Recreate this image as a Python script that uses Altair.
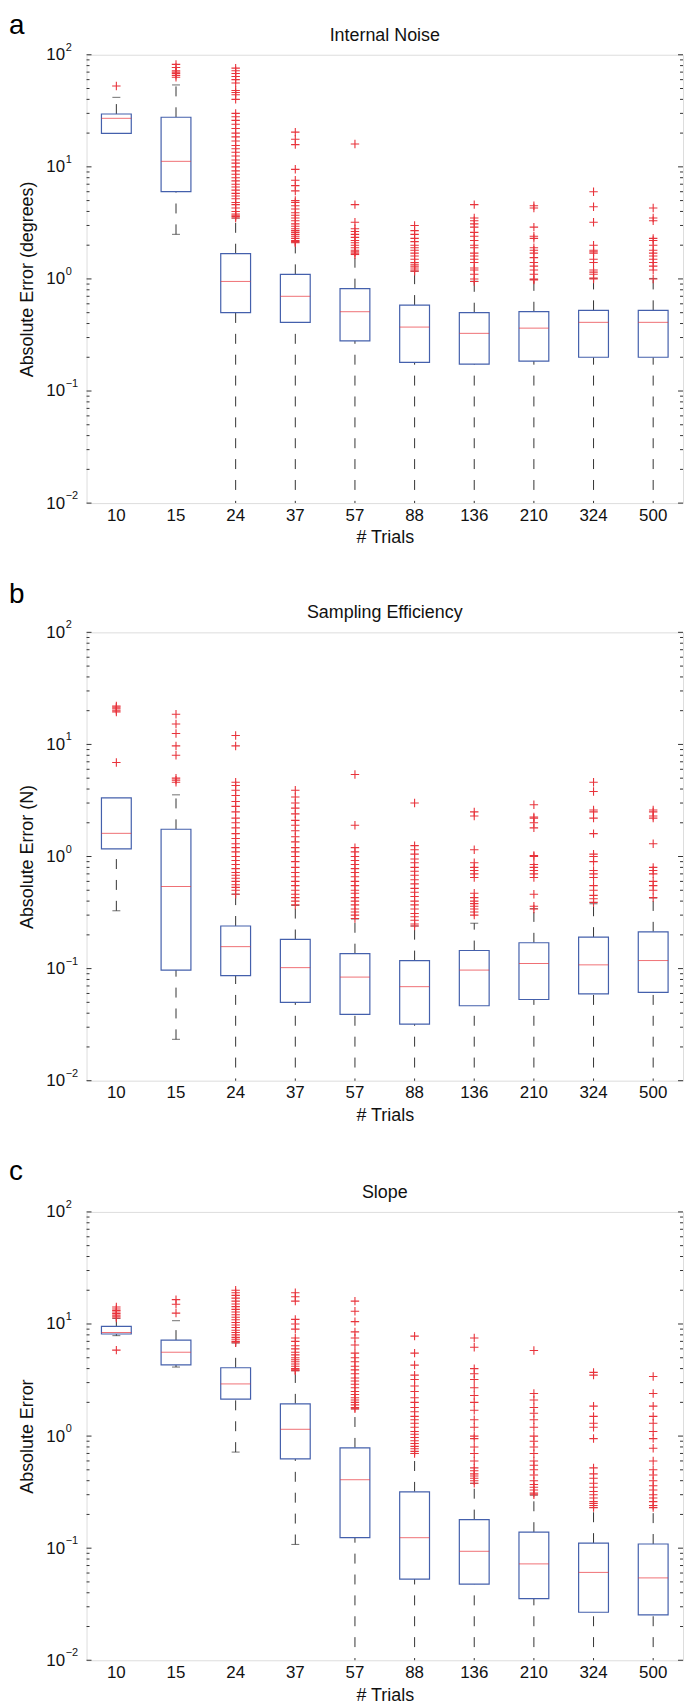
import altair as alt
import pandas as pd

trials = ["10", "15", "24", "37", "57", "88", "136", "210", "324", "500"]

# ---------- Panel a: Internal Noise ----------
a_q1 = [19.9, 6.0, 0.50, 0.41, 0.28, 0.18, 0.174, 0.185, 0.20, 0.20]
a_med = [27.1, 11.2, 0.95, 0.70, 0.51, 0.372, 0.327, 0.364, 0.41, 0.41]
a_q3 = [29.6, 27.7, 1.68, 1.10, 0.82, 0.585, 0.50, 0.51, 0.525, 0.525]
a_lo = [19.9, 2.5, 0.001, 0.001, 0.001, 0.001, 0.001, 0.001, 0.001, 0.001]
a_hi = [41.7, 53.8, 3.49, 2.13, 1.65, 1.17, 0.953, 0.99, 1.01, 1.01]
a_out = {
    "10": [52.6],
    "15": [63, 65.5, 68, 70, 72, 77, 82],
    "24": [3.5, 3.6, 3.7, 3.8, 4.0, 4.3, 4.6, 4.8, 5.2, 5.5, 5.8, 6.2, 6.6, 7.0, 7.5,
           8.0, 8.6, 9.2, 10.0, 10.8, 11.5, 12.5, 13.5, 14.5, 15.5, 17, 18.5, 20, 22,
           24, 26, 28, 30, 40, 44, 46, 48, 56, 60, 64, 68, 72, 76],
    "37": [2.1, 2.15, 2.2, 2.3, 2.4, 2.5, 2.6, 2.7, 2.8, 2.95, 3.1, 3.3, 3.5, 3.7, 3.9,
           4.2, 4.5, 4.8, 5.0, 6.1, 6.8, 7.6, 9.5, 15.8, 17.6, 20.4],
    "57": [1.65, 1.7, 1.75, 1.8, 1.9, 2.0, 2.1, 2.2, 2.35, 2.5, 2.65, 2.8, 3.2, 4.6, 16],
    "88": [1.17, 1.2, 1.25, 1.3, 1.35, 1.4, 1.5, 1.6, 1.7, 1.8, 1.9, 2.0, 2.15, 2.3,
           2.5, 2.7, 3.0],
    "136": [0.95, 1.0, 1.1, 1.2, 1.25, 1.4, 1.5, 1.6, 1.7, 1.9, 2.0, 2.2, 2.4, 2.6,
            2.9, 3.1, 3.3, 3.5, 4.6],
    "210": [0.98, 1.0, 1.1, 1.2, 1.3, 1.4, 1.55, 1.7, 1.8, 1.9, 2.3, 2.4, 2.9, 4.3, 4.5],
    "324": [1.0, 1.02, 1.1, 1.15, 1.2, 1.4, 1.5, 1.7, 1.75, 1.8, 2.0, 3.2, 4.4, 6.0],
    "500": [1.0, 1.2, 1.3, 1.4, 1.5, 1.6, 1.7, 1.8, 2.0, 2.2, 2.3, 3.3, 3.5, 4.3],
}

# ---------- Panel b: Sampling Efficiency ----------
b_q1 = [1.17, 0.097, 0.0865, 0.050, 0.039, 0.032, 0.0466, 0.053, 0.0596, 0.0613]
b_med = [1.61, 0.54, 0.157, 0.102, 0.084, 0.069, 0.097, 0.111, 0.108, 0.118]
b_q3 = [3.33, 1.75, 0.24, 0.182, 0.136, 0.118, 0.145, 0.170, 0.191, 0.213]
b_lo = [0.328, 0.0234, 0.001, 0.001, 0.001, 0.001, 0.001, 0.001, 0.001, 0.001]
b_hi = [3.33, 3.55, 0.462, 0.366, 0.277, 0.24, 0.254, 0.343, 0.379, 0.427]
b_out = {
    "10": [6.9, 19.5, 20.2, 20.8, 21.5, 22],
    "15": [4.6, 4.8, 5.0, 8.0, 9.7, 12.5, 15.2, 18.6],
    "24": [0.46, 0.5, 0.53, 0.56, 0.6, 0.64, 0.68, 0.72, 0.78, 0.85, 0.92, 1.0, 1.1,
           1.2, 1.3, 1.45, 1.6, 1.8, 2.0, 2.2, 2.5, 2.8, 3.1, 3.5, 3.9, 4.3, 4.6, 9.7, 12.0],
    "37": [0.37, 0.4, 0.43, 0.46, 0.5, 0.55, 0.6, 0.66, 0.72, 0.8, 0.9, 1.0, 1.1, 1.2,
           1.35, 1.5, 1.7, 1.9, 2.1, 2.4, 2.7, 3.0, 3.4, 3.9],
    "57": [0.28, 0.3, 0.32, 0.34, 0.37, 0.4, 0.43, 0.47, 0.5, 0.55, 0.6, 0.66, 0.72,
           0.78, 0.85, 0.92, 1.0, 1.1, 1.2, 1.9, 5.4],
    "88": [0.24, 0.25, 0.27, 0.29, 0.31, 0.34, 0.37, 0.4, 0.44, 0.48, 0.52, 0.57, 0.62,
           0.68, 0.74, 0.8, 0.88, 0.95, 1.05, 1.15, 1.25, 3.0],
    "136": [0.3, 0.32, 0.34, 0.36, 0.38, 0.4, 0.43, 0.47, 0.65, 0.7, 0.75, 0.8, 0.88,
            1.15, 2.3, 2.5],
    "210": [0.34, 0.36, 0.46, 0.65, 0.7, 0.75, 0.8, 0.85, 1.0, 1.02, 1.8, 2.0, 2.2,
            2.25, 2.9],
    "324": [0.39, 0.42, 0.45, 0.5, 0.55, 0.65, 0.7, 0.75, 0.9, 1.0, 1.05, 1.6, 2.2,
            2.5, 2.6, 3.8, 4.6],
    "500": [0.43, 0.5, 0.55, 0.6, 0.7, 0.75, 0.8, 1.3, 2.2, 2.3, 2.5, 2.6],
}

# ---------- Panel c: Slope ----------
c_q1 = [8.14, 4.32, 2.14, 0.625, 0.124, 0.053, 0.0477, 0.0355, 0.0268, 0.0254]
c_med = [8.4, 5.6, 2.92, 1.15, 0.408, 0.124, 0.0938, 0.0724, 0.0608, 0.0543]
c_q3 = [9.54, 7.19, 4.07, 1.94, 0.785, 0.318, 0.18, 0.139, 0.111, 0.109]
c_lo = [7.87, 4.13, 0.72, 0.108, 0.001, 0.001, 0.001, 0.001, 0.001, 0.001]
c_hi = [11.2, 10.7, 6.77, 3.83, 1.75, 0.70, 0.379, 0.297, 0.231, 0.231]
c_out = {
    "10": [5.85, 11.3, 11.6, 12, 12.4, 12.8, 13.2, 13.6, 14.2],
    "15": [12.5, 15, 16.5],
    "24": [6.8, 7.0, 7.3, 7.6, 8.0, 8.4, 8.8, 9.3, 9.8, 10.3, 10.9, 11.5, 12.1, 12.8,
           13.5, 14.3, 15.1, 16, 17, 18, 19, 20],
    "37": [3.83, 3.9, 4.0, 4.2, 4.4, 4.6, 4.8, 5.0, 5.3, 5.6, 6.0, 6.4, 7.0, 7.5, 9.0,
           10, 11, 16, 17.5, 19],
    "57": [1.75, 1.8, 1.9, 2.0, 2.1, 2.2, 2.35, 2.5, 2.7, 2.9, 3.1, 3.3, 3.6, 3.9, 4.2,
           4.6, 5.0, 5.5, 6.5, 7.5, 8.5, 10.5, 13, 16],
    "88": [0.7, 0.73, 0.77, 0.81, 0.86, 0.91, 0.97, 1.04, 1.1, 1.2, 1.3, 1.4, 1.5, 1.65,
           1.8, 2.0, 2.2, 2.5, 2.8, 3.2, 3.5, 4.3, 5.5, 7.8],
    "136": [0.38, 0.4, 0.42, 0.44, 0.46, 0.49, 0.52, 0.6, 0.7, 0.8, 0.95, 1.0, 1.2, 1.4,
            1.7, 2.0, 2.3, 2.7, 3.2, 3.6, 4.0, 6.2, 7.5],
    "210": [0.3, 0.31, 0.33, 0.35, 0.37, 0.4, 0.45, 0.5, 0.55, 0.6, 0.7, 0.8, 0.9, 1.0,
            1.2, 1.4, 1.6, 1.8, 2.1, 2.4, 5.8],
    "324": [0.23, 0.24, 0.25, 0.26, 0.28, 0.3, 0.32, 0.35, 0.38, 0.42, 0.46, 0.52, 0.95,
            1.2, 1.3, 1.5, 1.85, 3.5, 3.7],
    "500": [0.23, 0.24, 0.26, 0.28, 0.3, 0.33, 0.36, 0.4, 0.45, 0.5, 0.6, 0.78, 0.95,
            1.1, 1.3, 1.5, 1.85, 2.4, 3.4],
}

decades = [0.01, 0.1, 1, 10, 100]
exponents = ["\u22122", "\u22121", "0", "1", "2"]
minor_ticks = [0.02, 0.03, 0.04, 0.05, 0.06, 0.07, 0.08, 0.09,
               0.2, 0.3, 0.4, 0.5, 0.6, 0.7, 0.8, 0.9,
               2, 3, 4, 5, 6, 7, 8, 9,
               20, 30, 40, 50, 60, 70, 80, 90]

FONT = "Liberation Sans"
BOX = "#4460ac"
RED = "#e8333b"
BLACK = "#333333"
W, H = 600, 451


def panel(letter, letter_y, title, ytitle, q1, med, q3, lo, hi, out):
    stats = pd.DataFrame({"n": trials, "q1": q1, "med": med, "q3": q3,
                          "lo": lo, "hi": hi})
    rows = [(k, v) for k in trials for v in out[k]]
    outl = pd.DataFrame(rows, columns=["n", "v"])

    yscale = alt.Scale(type="log", domain=[0.01, 100], nice=False)
    xenc = alt.X("n:N", sort=trials,
                 scale=alt.Scale(domain=trials, paddingInner=0, paddingOuter=0),
                 axis=alt.Axis(title="# Trials", labelAngle=0, ticks=False,
                               tickSize=0, domain=False, labelFontSize=17,
                               labelPadding=4, titleFontSize=18,
                               titleFontWeight="normal", titlePadding=6,
                               labelFont=FONT, titleFont=FONT,
                               labelColor="#111", titleColor="#111"))
    yaxis = alt.Axis(title=ytitle, values=decades, labelExpr="'10'",
                     ticks=False, domain=False, grid=False, labelFontSize=17,
                     labelPadding=22, labelFont=FONT, titleFont=FONT,
                     titleFontSize=18, titleFontWeight="normal", titlePadding=9,
                     labelColor="#111", titleColor="#111")

    base = alt.Chart(stats)
    upper = base.mark_rule(color=BLACK, strokeDash=[10, 11], clip=True).encode(
        x=xenc, y=alt.Y("q3:Q", scale=yscale, axis=yaxis), y2="hi:Q")
    lower = base.mark_rule(color=BLACK, strokeDash=[10, 11], clip=True).encode(
        x=xenc, y=alt.Y("lo:Q", scale=yscale), y2="q1:Q")
    cap_hi = base.transform_filter("datum.hi > datum.q3").mark_tick(
        color=BLACK, size=8, thickness=1).encode(x=xenc, y=alt.Y("hi:Q", scale=yscale))
    cap_lo = base.transform_filter("datum.lo < datum.q1 && datum.lo >= 0.01").mark_tick(
        color=BLACK, size=8, thickness=1).encode(x=xenc, y=alt.Y("lo:Q", scale=yscale))
    box = base.mark_bar(size=30, fill="white", stroke=BOX, strokeWidth=1.2).encode(
        x=xenc, y=alt.Y("q1:Q", scale=yscale), y2="q3:Q")
    median = base.mark_tick(color=RED, size=30, thickness=1).encode(
        x=xenc, y=alt.Y("med:Q", scale=yscale))
    pts = alt.Chart(outl).mark_point(
        shape="M-1,0L1,0M0,-1L0,1", size=72, stroke=RED, strokeWidth=1.1,
        filled=False, opacity=1).encode(x=xenc, y=alt.Y("v:Q", scale=yscale))

    maj = pd.DataFrame({"v": decades, "e": exponents})
    mino = pd.DataFrame({"v": minor_ticks})
    tl_maj = alt.Chart(maj).mark_rule(color=BLACK).encode(
        y=alt.Y("v:Q", scale=yscale), x=alt.value(0), x2=alt.value(5))
    tr_maj = alt.Chart(maj).mark_rule(color=BLACK).encode(
        y=alt.Y("v:Q", scale=yscale), x=alt.value(W), x2=alt.value(W - 5))
    tl_min = alt.Chart(mino).mark_rule(color=BLACK).encode(
        y=alt.Y("v:Q", scale=yscale), x=alt.value(0), x2=alt.value(3))
    tr_min = alt.Chart(mino).mark_rule(color=BLACK).encode(
        y=alt.Y("v:Q", scale=yscale), x=alt.value(W), x2=alt.value(W - 3))
    expo = alt.Chart(maj).mark_text(align="left", baseline="middle", dy=-7,
                                    fontSize=11, font=FONT, color="#111").encode(
        y=alt.Y("v:Q", scale=yscale), x=alt.value(-21), text="e:N")

    tdf = pd.DataFrame({"t": [title], "l": [letter]})
    ttl = alt.Chart(tdf).mark_text(align="center", baseline="middle", fontSize=18,
                                   font=FONT, color="#111").encode(
        x=alt.value(W / 2), y=alt.value(-19), text="t:N")
    let = alt.Chart(tdf).mark_text(align="left", baseline="alphabetic", fontSize=28,
                                   font=FONT, color="#000").encode(
        x=alt.value(-78), y=alt.value(letter_y), text="l:N")

    return alt.layer(upper, lower, cap_hi, cap_lo, box, median, pts,
                     tl_maj, tr_maj, tl_min, tr_min, expo, ttl, let).properties(
        width=W, height=H)


pa = panel("a", -21, "Internal Noise", "Absolute Error (degrees)",
           a_q1, a_med, a_q3, a_lo, a_hi, a_out)
pb = panel("b", -30, "Sampling Efficiency", "Absolute Error (N)",
           b_q1, b_med, b_q3, b_lo, b_hi, b_out)
pc = panel("c", -32, "Slope", "Absolute Error",
           c_q1, c_med, c_q3, c_lo, c_hi, c_out)

chart = alt.vconcat(pa, pb, pc, spacing=32).properties(
    padding={"left": 0, "top": -2, "right": 0, "bottom": 0}
).configure_view(stroke="#222", strokeWidth=1).configure(background="white")

chart.save("out.html", embed_options={"renderer": "svg", "actions": False})
